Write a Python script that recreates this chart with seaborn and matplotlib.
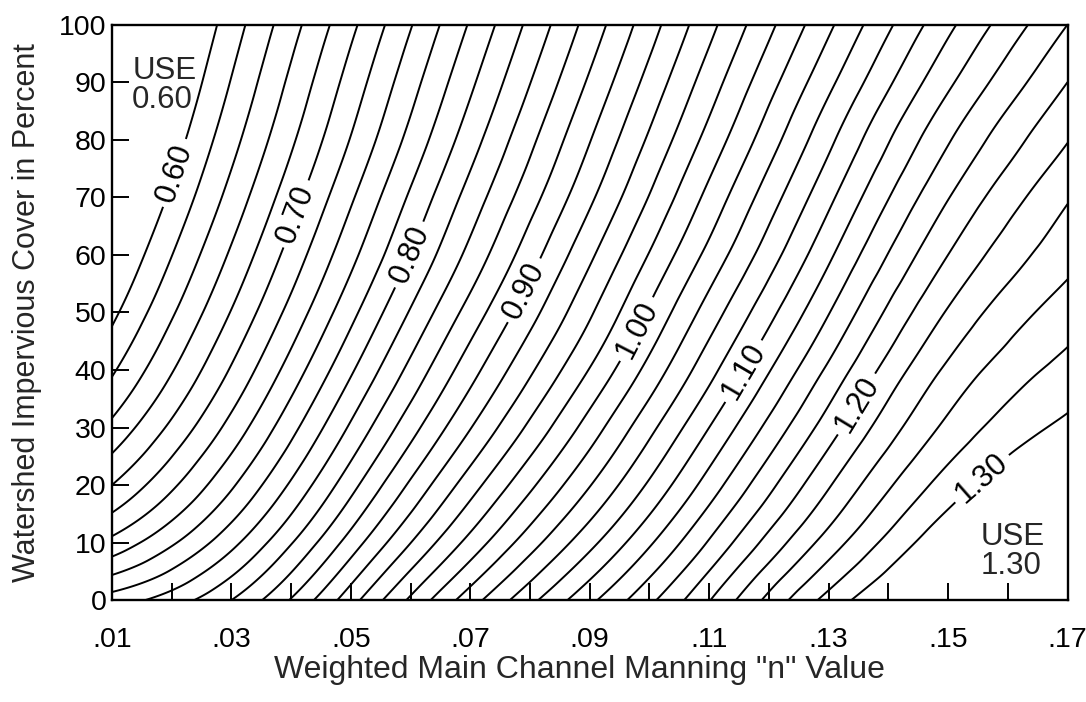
import numpy as np
import matplotlib
matplotlib.use("Agg")
import matplotlib.pyplot as plt
import matplotlib.tri as mtri
import seaborn as sns

# conveyance factor on a coarse grid
n_values = [0.01, 0.03, 0.05, 0.07, 0.09, 0.11, 0.13, 0.15, 0.17]
cover_values = [0, 10, 20, 30, 40, 50, 60, 70, 80, 90, 100]
phi_cover_0 = [0.790, 0.840, 0.932, 1.031, 1.115, 1.199, 1.287, 1.345, 1.400]
phi_cover_10 = [0.726, 0.794, 0.889, 0.987, 1.074, 1.162, 1.249, 1.316, 1.365]
phi_cover_20 = [0.680, 0.757, 0.853, 0.951, 1.039, 1.129, 1.218, 1.289, 1.332]
phi_cover_30 = [0.645, 0.727, 0.823, 0.919, 1.009, 1.100, 1.190, 1.265, 1.305]
phi_cover_40 = [0.617, 0.702, 0.797, 0.892, 0.981, 1.073, 1.164, 1.244, 1.287]
phi_cover_50 = [0.595, 0.681, 0.774, 0.868, 0.957, 1.049, 1.139, 1.222, 1.270]
phi_cover_60 = [0.577, 0.663, 0.754, 0.846, 0.936, 1.026, 1.116, 1.200, 1.253]
phi_cover_70 = [0.561, 0.647, 0.737, 0.828, 0.916, 1.006, 1.095, 1.179, 1.238]
phi_cover_80 = [0.547, 0.633, 0.721, 0.811, 0.899, 0.987, 1.075, 1.158, 1.219]
phi_cover_90 = [0.535, 0.621, 0.708, 0.796, 0.883, 0.970, 1.055, 1.136, 1.200]
phi_cover_100 = [0.525, 0.610, 0.695, 0.782, 0.868, 0.954, 1.036, 1.115, 1.180]

levels = [0.62, 0.64, 0.66, 0.68, 0.72, 0.74, 0.76, 0.78,
          0.82, 0.84, 0.86, 0.88, 0.92, 0.94, 0.96, 0.98,
          1.02, 1.04, 1.06, 1.08, 1.12, 1.14, 1.16, 1.18,
          1.22, 1.24, 1.26, 1.28]
label_levels = [0.60, 0.70, 0.80, 0.90, 1.00, 1.10, 1.20, 1.30]
label_spots = [(0.0197, 74.5), (0.0398, 67.5), (0.0599, 60), (0.0806, 53),
               (0.0986, 46.7), (0.1154, 40), (0.1348, 34), (0.1552, 21.7)]

x_ticks = [0.01, 0.02, 0.03, 0.04, 0.05, 0.06, 0.07, 0.08, 0.09,
           0.10, 0.11, 0.12, 0.13, 0.14, 0.15, 0.16, 0.17]
x_ticklabels = [".01", "", ".03", "", ".05", "", ".07", "", ".09",
                "", ".11", "", ".13", "", ".15", "", ".17"]
y_ticks = [0, 10, 20, 30, 40, 50, 60, 70, 80, 90, 100]

sns.set_style("ticks")
plt.rcParams['font.family'] = ['Liberation Sans', 'DejaVu Sans']

Z = np.array([phi_cover_0, phi_cover_10, phi_cover_20, phi_cover_30, phi_cover_40,
              phi_cover_50, phi_cover_60, phi_cover_70, phi_cover_80, phi_cover_90,
              phi_cover_100])
N, C = np.meshgrid(n_values, cover_values)
# smooth the table with a cubic interpolator (grid scaled to unit cells)
tri = mtri.Triangulation(((N - 0.01) / 0.02).ravel(), (C / 10).ravel())
interp = mtri.CubicTriInterpolator(tri, Z.ravel(), kind="min_E")

nf = np.linspace(0.01 + 1e-7, 0.17 - 1e-7, 500)
cf = np.linspace(0 + 1e-5, 100 - 1e-5, 500)
NF, CF = np.meshgrid(nf, cf)
ZF = interp((NF - 0.01) / 0.02, CF / 10)

fig, ax = plt.subplots(figsize=(10.86, 7.02), dpi=100)
fig.subplots_adjust(left=0.103, right=0.983, bottom=0.145, top=0.965)

ax.contour(NF, CF, ZF, levels=levels, colors="black", linewidths=1.4)
cs = ax.contour(NF, CF, ZF, levels=label_levels, colors="black", linewidths=1.4)
ax.clabel(cs, manual=label_spots, inline=True,
          inline_spacing=6, fmt="%.2f", fontsize=22)

ax.text(0.0134, 94.5, "USE\n0.60", fontsize=22.5, va="top", ha="left", linespacing=0.95)
ax.text(0.1555, 13.5, "USE\n1.30", fontsize=22.5, va="top", ha="left", linespacing=0.95)

ax.set_xlim(0.01, 0.17)
ax.set_ylim(0, 100)
ax.set_xticks(x_ticks)
ax.set_xticklabels(x_ticklabels)
ax.set_yticks(y_ticks)
ax.tick_params(axis="both", direction="in", length=12, width=1.4, labelsize=20.5, colors="black")
ax.tick_params(axis="x", pad=19)
ax.tick_params(axis="y", pad=4)
for s in ax.spines.values():
    s.set_linewidth(1.7)
    s.set_color("black")

ax.set_xlabel('Weighted Main Channel Manning "n" Value', fontsize=23, labelpad=4)
ax.xaxis.set_label_coords(0.489, -0.095)
ax.set_ylabel("Watershed Impervious Cover in Percent", fontsize=22, labelpad=12)

fig.savefig("out.png", dpi=100, facecolor="white")
